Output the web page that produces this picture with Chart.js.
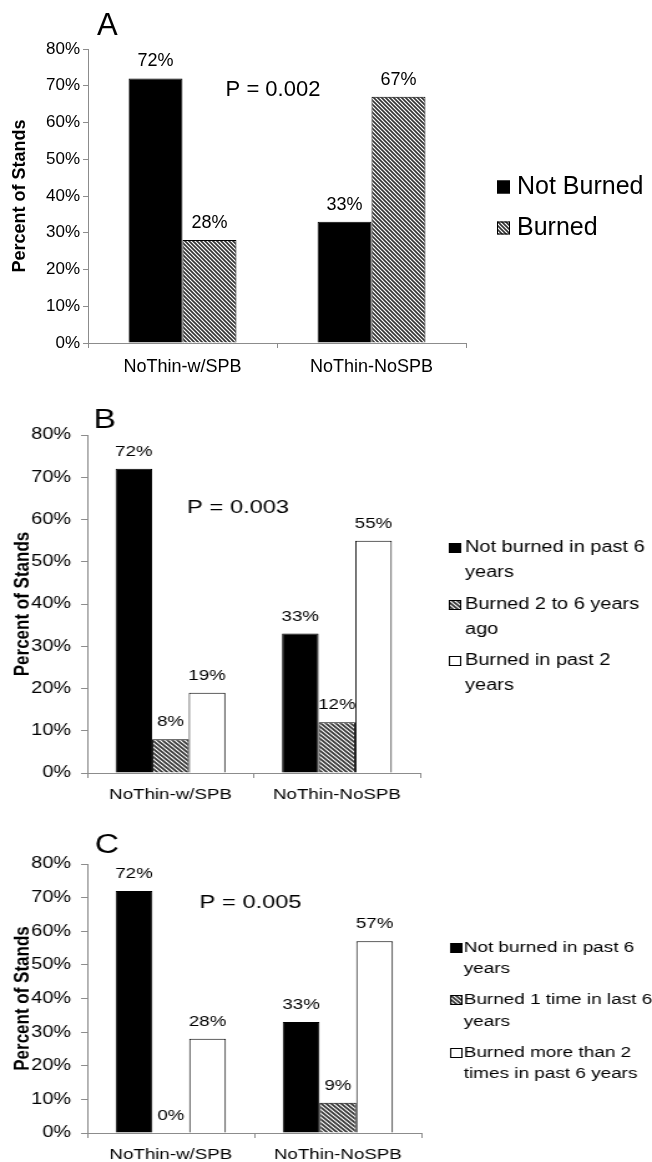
<!DOCTYPE html>
<html>
<head>
<meta charset="utf-8">
<script src="https://cdn.jsdelivr.net/npm/chart.js@4.4.1/dist/chart.umd.min.js"></script>
<style>
    body { margin: 0; background: #fff; }
    #wrap { position: relative; width: 652px; height: 1162px; overflow: hidden; background: #fff; }
    canvas { position: absolute; left: 0; }
    /* panels B and C are drawn narrow and stretched sideways like the source figure */
    .wide { transform: scaleX(1.24665); transform-origin: 0 0; }
</style>
</head>
<body>
<div id="wrap">
    <canvas id="chartA" width="652" height="390" style="top:0px"></canvas>
    <canvas id="chartB" class="wide" width="523" height="420" style="top:390px"></canvas>
    <canvas id="chartC" class="wide" width="523" height="352" style="top:810px"></canvas>
</div>
<script>
const categories = ['NoThin-w/SPB', 'NoThin-NoSPB'];

// panel A
const aNotBurned = [72, 33];
const aBurned = [28, 67];
const aLegend = [['Not Burned'], ['Burned']];

// panel B
const bNotBurned = [72, 33];
const bBurned2to6 = [8, 12];
const bBurnedPast2 = [19, 55];
const bLegend = [['Not burned in past 6', 'years'], ['Burned 2 to 6 years', 'ago'], ['Burned in past 2', 'years']];

// panel C
const cNotBurned = [72, 33];
const cBurnedOnce = [0, 9];
const cBurnedMore = [28, 57];
const cLegend = [['Not burned in past 6', 'years'], ['Burned 1 time in last 6', 'years'], ['Burned more than 2', 'times in past 6 years']];

const pValues = ['P = 0.002', 'P = 0.003', 'P = 0.005'];

Chart.defaults.font.family = "'Liberation Sans', Arial, sans-serif";
Chart.defaults.color = '#000';
const FONT = "'Liberation Sans', Arial, sans-serif";
const axisColor = '#8c8c8c';

function makeHatch() {
    const c = document.createElement('canvas');
    c.width = 4; c.height = 4;
    const g = c.getContext('2d');
    g.fillStyle = '#fff';
    g.fillRect(0, 0, 4, 4);
    g.strokeStyle = '#333';
    g.lineWidth = 1.6;
    g.beginPath();
    g.moveTo(-1, -1); g.lineTo(5, 5);
    g.moveTo(-1, 3); g.lineTo(1, 5);
    g.moveTo(3, -1); g.lineTo(5, 1);
    g.stroke();
    return g.createPattern(c, 'repeat');
}
const hatch = makeHatch();

function makePanel(id, p) {
    const el = document.getElementById(id);
    const canvasH = el.height;
    const canvasW = el.width;

    // value labels, letter, p value, legend
    const decor = {
        id: 'decor' + id,
        afterDatasetsDraw(chart) {
            const ctx = chart.ctx;
            ctx.save();
            ctx.fillStyle = '#000';
            ctx.textAlign = 'center';
            ctx.textBaseline = 'middle';
            ctx.font = p.valueFont + 'px ' + FONT;
            chart.data.datasets.forEach((ds, i) => {
                chart.getDatasetMeta(i).data.forEach((bar, j) => {
                    ctx.fillText(ds.data[j] + '%', bar.x, bar.y - 17);
                });
            });

            ctx.textAlign = 'left';
            ctx.font = p.letterFont + 'px ' + FONT;
            ctx.fillText(p.letter, p.letterX, p.letterY);

            ctx.textAlign = 'center';
            ctx.font = p.pFont + 'px ' + FONT;
            ctx.fillText(p.pText, p.pX, p.pY);

            // legend
            ctx.textAlign = 'left';
            ctx.font = p.legend.font + 'px ' + FONT;
            const bs = p.legend.box;
            chart.data.datasets.forEach((ds, i) => {
                const ys = p.legend.rows[i];
                ctx.fillStyle = ds.backgroundColor;
                ctx.fillRect(p.legend.x, ys[0] - bs / 2, bs, bs);
                ctx.strokeStyle = '#000';
                ctx.lineWidth = 1;
                ctx.strokeRect(p.legend.x + 0.5, ys[0] - bs / 2 + 0.5, bs - 1, bs - 1);
                ctx.fillStyle = '#000';
                p.legendText[i].forEach((line, k) => {
                    ctx.fillText(line, p.legend.textX, ys[k]);
                });
            });
            ctx.restore();
        }
    };

    return new Chart(el, {
        type: 'bar',
        data: {
            labels: categories,
            datasets: p.datasets
        },
        options: {
            responsive: false,
            animation: false,
            layout: {
                padding: {top: p.area.top, right: canvasW - p.area.right, left: 0, bottom: 0}
            },
            plugins: {
                legend: {display: false},
                tooltip: {enabled: false}
            },
            datasets: {
                bar: {
                    barPercentage: 1,
                    categoryPercentage: p.catPct,
                    borderWidth: 1,
                    borderColor: '#000'
                }
            },
            scales: {
                x: {
                    grid: {drawOnChartArea: false, drawTicks: true, tickLength: 5, color: axisColor, offset: true},
                    border: {color: axisColor},
                    ticks: {font: {size: p.catFont}, color: '#000', padding: 8, maxRotation: 0, autoSkip: false},
                    afterFit: s => { s.height = canvasH - p.area.bottom; }
                },
                y: {
                    min: 0,
                    max: 80,
                    grid: {drawOnChartArea: false, drawTicks: true, tickLength: 5, color: axisColor},
                    border: {color: axisColor},
                    ticks: {stepSize: 10, font: {size: p.tickFont}, color: '#000', padding: p.tickPad, callback: v => v + '%'},
                    title: {
                        display: true,
                        text: 'Percent of Stands',
                        color: '#000',
                        font: {size: p.titleFont, weight: 'bold'},
                        padding: {top: p.titlePad, bottom: 0}
                    },
                    afterFit: s => { s.width = p.area.left; }
                }
            }
        },
        plugins: [decor]
    });
}

makePanel('chartA', {
    datasets: [
        {label: 'Not Burned', data: aNotBurned, backgroundColor: '#000'},
        {label: 'Burned', data: aBurned, backgroundColor: hatch}
    ],
    legendText: aLegend,
    area: {left: 88, right: 466, top: 49, bottom: 343},
    catPct: 0.571,
    tickFont: 17, tickPad: 3, catFont: 18, valueFont: 18,
    titleFont: 18, titlePad: 9,
    letter: 'A', letterFont: 31, letterX: 97, letterY: 26,
    pText: pValues[0], pFont: 22, pX: 273, pY: 90,
    legend: {x: 497, box: 13, textX: 517, font: 25, rows: [[187], [228]]}
});

makePanel('chartB', {
    datasets: [
        {label: bLegend[0].join(' '), data: bNotBurned, backgroundColor: '#000'},
        {label: bLegend[1].join(' '), data: bBurned2to6, backgroundColor: hatch},
        {label: bLegend[2].join(' '), data: bBurnedPast2, backgroundColor: '#fff'}
    ],
    legendText: bLegend,
    area: {left: 70, right: 337, top: 45, bottom: 383},
    catPct: 0.66,
    tickFont: 16, tickPad: 8, catFont: 15, valueFont: 15,
    titleFont: 17, titlePad: 8,
    letter: 'B', letterFont: 27, letterX: 75, letterY: 31,
    pText: pValues[1], pFont: 19, pX: 191, pY: 118,
    legend: {x: 360, box: 10, textX: 373, font: 16, rows: [[158, 183], [215, 240], [271, 296]]}
});

makePanel('chartC', {
    datasets: [
        {label: cLegend[0].join(' '), data: cNotBurned, backgroundColor: '#000'},
        {label: cLegend[1].join(' '), data: cBurnedOnce, backgroundColor: hatch},
        {label: cLegend[2].join(' '), data: cBurnedMore, backgroundColor: '#fff'}
    ],
    legendText: cLegend,
    area: {left: 70, right: 338, top: 54, bottom: 323},
    catPct: 0.66,
    tickFont: 16, tickPad: 8, catFont: 15, valueFont: 15,
    titleFont: 17, titlePad: 8,
    letter: 'C', letterFont: 27, letterX: 76, letterY: 36,
    pText: pValues[2], pFont: 19, pX: 201, pY: 93,
    legend: {x: 361, box: 10, textX: 372, font: 15.2, rows: [[138, 159], [190, 212], [243, 264]]}
});
</script>
</body>
</html>
